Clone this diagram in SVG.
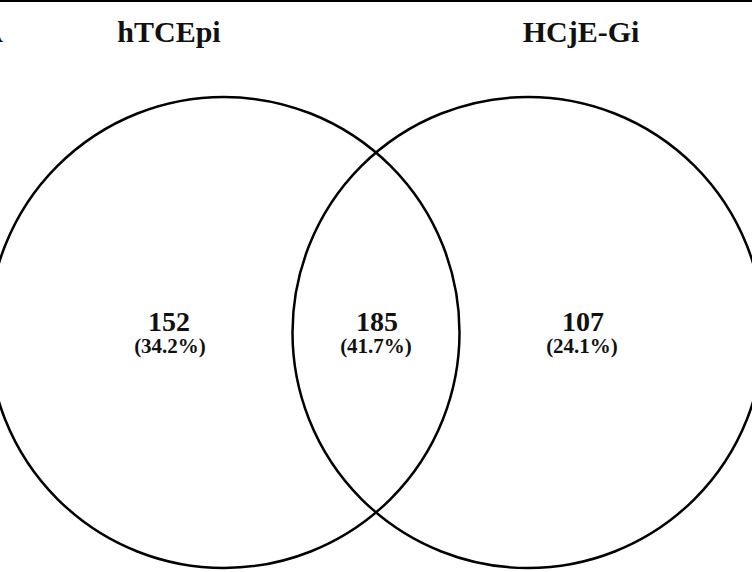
<svg xmlns="http://www.w3.org/2000/svg" width="752" height="572" viewBox="0 0 752 572">
<style>
.c{fill:none;stroke:#000;stroke-width:2.5}
.t{font-family:"Liberation Serif","Times New Roman",serif;font-weight:bold;fill:#111;text-anchor:middle}
.h{font-size:30px}
.n{font-size:28px}
.p{font-size:21px}
</style>
<rect width="752" height="572" fill="#fff"/>
<line x1="0" y1="1" x2="752" y2="1" stroke="#000" stroke-width="2"/>
<text class="t h" x="3" y="42" style="text-anchor:end">A</text>
<g id="left">
<circle class="c" cx="224" cy="332.5" r="235.5"/>
<text class="t h" x="169" y="42">hTCEpi</text>
<text class="t n" x="169" y="331">152</text>
<text class="t p" x="170" y="353">(34.2%)</text>
</g>
<g id="right">
<circle class="c" cx="528" cy="332.5" r="235.5"/>
<text class="t h" x="581" y="42">HCjE-Gi</text>
<text class="t n" x="583" y="331">107</text>
<text class="t p" x="582" y="353">(24.1%)</text>
</g>
<g id="overlap">
<text class="t n" x="377" y="331">185</text>
<text class="t p" x="376" y="353">(41.7%)</text>
</g>
<g id="connectors"></g>
</svg>
